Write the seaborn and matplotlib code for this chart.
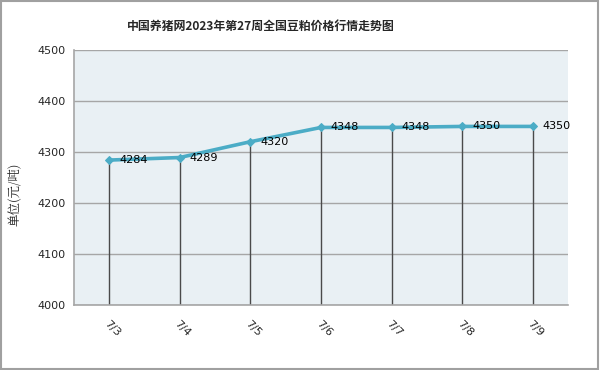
import matplotlib
matplotlib.use("Agg")
import matplotlib.pyplot as plt
from matplotlib.patches import Rectangle
import seaborn as sns
import pandas as pd

# weekly soybean meal prices (yuan/ton)
dates = ["7/3", "7/4", "7/5", "7/6", "7/7", "7/8", "7/9"]
prices = [4284, 4289, 4320, 4348, 4348, 4350, 4350]
y_ticks = [4000, 4100, 4200, 4300, 4400, 4500]

title = "中国养猪网2023年第27周全国豆粕价格行情走势图"
ylabel = "单位(元/吨)"

sns.set_style("white")
plt.rcParams['font.family'] = ['Noto Sans CJK SC', 'DejaVu Sans']

df = pd.DataFrame({"date": dates, "price": prices})

fig = plt.figure(figsize=(6, 3.7), dpi=100)
ax = fig.add_axes([0.123, 0.176, 0.824, 0.689])
ax.set_facecolor("#E9F0F4")

line_color = "#4BACC6"
pos = list(range(len(dates)))

# drop lines from each point to the axis floor
ax.vlines(pos, y_ticks[0], df["price"], color="#4A4A4A", lw=1.0, zorder=2)
sns.lineplot(data=df, x="date", y="price", sort=False, ax=ax, color=line_color,
             lw=2.6, marker="D", markersize=4.5, markeredgecolor=line_color, zorder=3)

for i, v in enumerate(prices):
    ax.text(i + 0.14, v, str(v), fontsize=8, va="center", ha="left",
            color="black", family="DejaVu Sans", zorder=4)

ax.set_xlim(-0.5, len(dates) - 0.5)
ax.set_ylim(y_ticks[0], y_ticks[-1])
ax.set_yticks(y_ticks)
ax.yaxis.grid(True, color="#A6A6A6", lw=1.0)
ax.set_axisbelow(True)

ax.set_xticks(pos)
ax.set_xticklabels(dates, rotation=-45, ha="left", rotation_mode="anchor", fontsize=8,
                   family="DejaVu Sans")
ax.set_xticks([p + 0.5 for p in pos[:-1]], minor=True)
ax.tick_params(axis="x", which="major", length=0, pad=10)
ax.tick_params(axis="x", which="minor", length=3, color="#A6A6A6", direction="in")
ax.tick_params(axis="y", length=0, labelsize=8, pad=6)
for lab in ax.get_yticklabels():
    lab.set_family("DejaVu Sans")

for side in ["top", "right"]:
    ax.spines[side].set_visible(False)
for side in ["left", "bottom"]:
    ax.spines[side].set_color("#A6A6A6")
    ax.spines[side].set_linewidth(1.2)

ax.set_xlabel("")
ax.set_ylabel("")
fig.text(0.025, 0.475, ylabel, rotation=90, va="center", ha="center", fontsize=9,
         family=["Noto Serif CJK SC", "Noto Sans CJK SC"])
fig.text(0.435, 0.93, title, ha="center", va="center", fontsize=8.6, fontweight="bold")

fig.patches.append(Rectangle((0.002, 0.003), 0.995, 0.993, transform=fig.transFigure,
                             fill=False, edgecolor="#A0A0A0", lw=1.5))

fig.savefig("out.png", dpi=100)
